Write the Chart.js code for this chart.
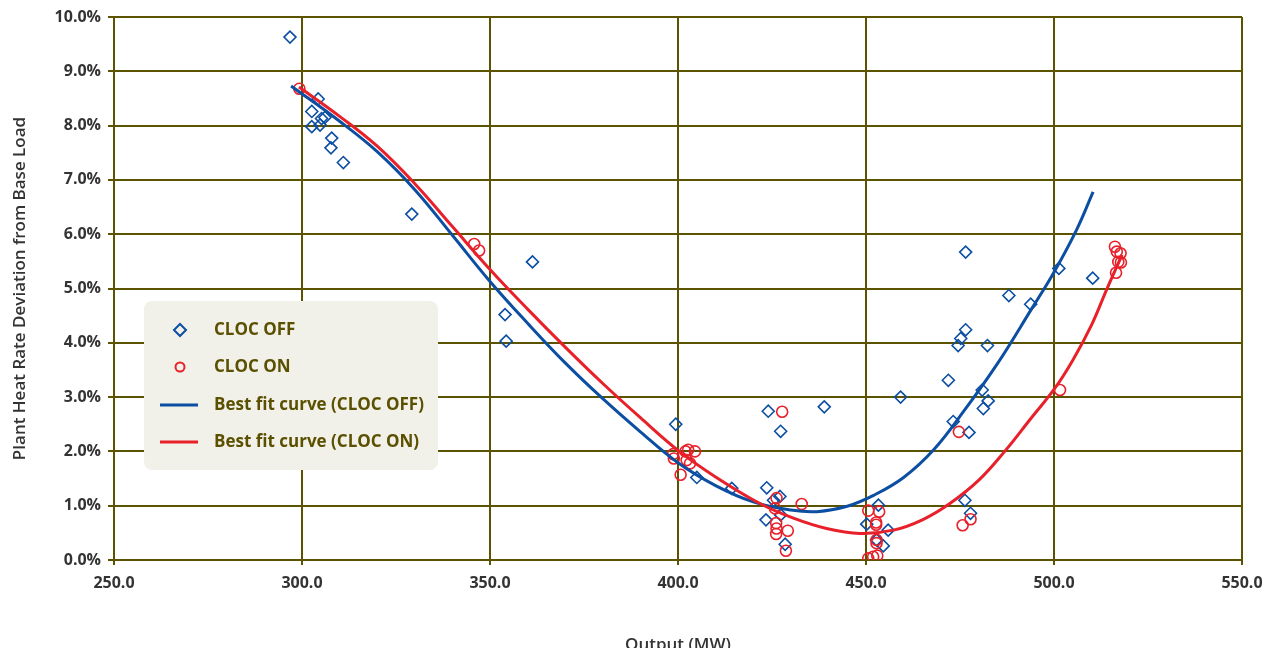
<!DOCTYPE html>
<html>
<head>
<meta charset="utf-8">
<script src="https://cdn.jsdelivr.net/npm/chart.js@4.4.0/dist/chart.umd.min.js"></script>
<style>
  html, body { margin: 0; padding: 0; background: #fff; overflow: hidden; }
  #wrap { position: relative; width: 1273px; height: 648px; }
</style>
</head>
<body>
<div id="wrap"><canvas id="chart" width="1273" height="648"></canvas></div>
<script>
// ── 数据 ──
const offX = [296.8, 304.3, 302.6, 305.2, 306.1, 302.6, 304.8, 307.9, 307.7, 311.0, 329.2,
  361.3, 354.0, 354.3, 399.4, 424.0, 438.9, 459.2, 427.3, 405.0, 414.3, 423.6, 425.4, 427.1,
  427.3, 423.4, 428.5, 450.2, 453.3, 455.9, 454.6, 452.8, 476.5, 501.3, 510.3, 488.0, 493.8,
  476.5, 475.2, 474.5, 482.3, 471.9, 480.9, 482.5, 481.2, 473.2, 477.4, 476.3, 477.8];
const offY = [9.63, 8.49, 8.26, 8.13, 8.15, 7.98, 8.01, 7.77, 7.59, 7.32, 6.37,
  5.49, 4.52, 4.03, 2.50, 2.74, 2.82, 3.00, 2.37, 1.52, 1.32, 1.33, 1.10, 1.17,
  0.83, 0.74, 0.29, 0.66, 1.01, 0.55, 0.26, 0.37, 5.67, 5.37, 5.19, 4.87, 4.71,
  4.24, 4.08, 3.95, 3.95, 3.31, 3.13, 2.93, 2.79, 2.55, 2.35, 1.10, 0.86];

const onX = [299.3, 345.8, 347.1, 398.7, 398.9, 402.7, 404.5, 402.3, 403.2, 400.7, 402.0,
  427.7, 426.2, 425.8, 432.9, 426.1, 426.2, 426.1, 429.2, 428.7, 450.6, 453.5, 452.7, 452.7,
  452.8, 452.8, 450.6, 451.9, 453.0, 474.7, 501.6, 475.7, 477.8, 516.2, 516.7, 517.7, 517.1,
  516.5, 517.8];
const onY = [8.68, 5.82, 5.70, 1.95, 1.87, 2.03, 2.00, 1.84, 1.78, 1.57, 2.00,
  2.73, 1.14, 0.95, 1.03, 0.68, 0.58, 0.48, 0.54, 0.17, 0.91, 0.89, 0.69, 0.65,
  0.37, 0.31, 0.03, 0.06, 0.08, 2.36, 3.13, 0.64, 0.75, 5.77, 5.68, 5.65, 5.49,
  5.29, 5.48];

// 拟合曲线（沿图中曲线读取的点）
const offFitX = [297.1, 310, 320, 330, 340, 350, 360, 370, 380, 390, 400, 410, 420,
  430, 437, 445, 452, 460, 468, 476, 485, 494, 500, 506, 510.4];
const offFitY = [8.73, 8.08, 7.52, 6.82, 5.98, 5.13, 4.36, 3.63, 2.97, 2.36, 1.79, 1.37, 1.07,
  0.92, 0.89, 0.99, 1.19, 1.52, 2.03, 2.74, 3.62, 4.62, 5.30, 6.08, 6.78];

const onFitX = [299.2, 310, 320, 330, 340, 350, 360, 370, 380, 390, 400, 410, 421.8,
  430.7, 439.5, 448.4, 457.3, 465, 472.3, 480, 487, 494, 500, 505, 510, 514, 518.1];
const onFitY = [8.71, 8.17, 7.62, 6.93, 6.14, 5.35, 4.62, 3.92, 3.25, 2.62, 2.02, 1.53, 1.04,
  0.77, 0.58, 0.49, 0.55, 0.74, 1.04, 1.47, 2.01, 2.62, 3.14, 3.68, 4.33, 4.98, 5.62];

const BLUE = '#0b4ea2';
const RED = '#e8202a';
const GRID = '#5b5300';
const LEGEND_TEXT = '#5a5000';

const toPts = (xs, ys) => xs.map((x, i) => ({ x, y: ys[i] }));

// ── 图例（画在图表区内） ──
const legendBox = {
  id: 'legendBox',
  afterDatasetsDraw(chart) {
    const ctx = chart.ctx;
    ctx.save();
    ctx.fillStyle = '#f2f1e9';
    ctx.beginPath();
    ctx.roundRect(144, 301, 294, 169, 8);
    ctx.fill();

    ctx.lineWidth = 2;
    // 菱形
    ctx.strokeStyle = BLUE;
    ctx.beginPath();
    ctx.moveTo(180, 324); ctx.lineTo(186, 330); ctx.lineTo(180, 336); ctx.lineTo(174, 330);
    ctx.closePath(); ctx.stroke();
    // 圆
    ctx.strokeStyle = RED;
    ctx.beginPath(); ctx.arc(180, 367, 4.5, 0, Math.PI * 2); ctx.stroke();
    // 线
    ctx.lineWidth = 3;
    ctx.strokeStyle = BLUE;
    ctx.beginPath(); ctx.moveTo(160, 405); ctx.lineTo(198, 405); ctx.stroke();
    ctx.strokeStyle = RED;
    ctx.beginPath(); ctx.moveTo(160, 442); ctx.lineTo(198, 442); ctx.stroke();

    ctx.fillStyle = LEGEND_TEXT;
    ctx.font = 'bold 17px "Open Sans"';
    ctx.textBaseline = 'middle';
    ctx.textAlign = 'left';
    ctx.fillText('CLOC OFF', 214, 330);
    ctx.fillText('CLOC ON', 214, 367);
    ctx.fillText('Best fit curve (CLOC OFF)', 214, 405);
    ctx.fillText('Best fit curve (CLOC ON)', 214, 442);
    ctx.restore();
  }
};

new Chart(document.getElementById('chart'), {
  type: 'scatter',
  data: {
    datasets: [
      {
        label: 'Best fit curve (CLOC ON)',
        data: toPts(onFitX, onFitY),
        showLine: true,
        borderColor: RED,
        borderWidth: 3,
        pointRadius: 0,
        tension: 0.4,
        order: 0
      },
      {
        label: 'Best fit curve (CLOC OFF)',
        data: toPts(offFitX, offFitY),
        showLine: true,
        borderColor: BLUE,
        borderWidth: 3,
        pointRadius: 0,
        tension: 0.4,
        order: 1
      },
      {
        label: 'CLOC ON',
        data: toPts(onX, onY),
        pointStyle: 'circle',
        pointRadius: 5.5,
        borderColor: RED,
        borderWidth: 1.6,
        backgroundColor: 'rgba(0,0,0,0)',
        order: 2
      },
      {
        label: 'CLOC OFF',
        data: toPts(offX, offY),
        pointStyle: 'rectRot',
        pointRadius: 6,
        borderColor: BLUE,
        borderWidth: 1.6,
        backgroundColor: 'rgba(0,0,0,0)',
        order: 3
      }
    ]
  },
  options: {
    responsive: false,
    animation: false,
    layout: { padding: { left: 0, top: 17, right: 31, bottom: 0 } },
    plugins: {
      legend: { display: false },
      tooltip: { enabled: false }
    },
    scales: {
      x: {
        min: 250, max: 550,
        afterFit: s => { s.height = 88; },
        ticks: {
          stepSize: 50,
          color: '#333',
          font: { family: 'Open Sans', size: 16, weight: 'bold' },
          padding: 9,
          maxRotation: 0,
          callback: v => v.toFixed(1)
        },
        grid: { color: GRID, lineWidth: 2, tickLength: 5 },
        border: { color: GRID, width: 2 },
        title: {
          display: true, text: 'Output (MW)', color: '#333',
          font: { family: 'Open Sans', size: 17, weight: '600' },
          padding: { top: 0, bottom: -7 }
        }
      },
      y: {
        min: 0, max: 10,
        afterFit: s => { s.width = 114; },
        ticks: {
          stepSize: 1,
          color: '#333',
          font: { family: 'Open Sans', size: 16, weight: 'bold' },
          padding: 7,
          callback: v => v.toFixed(1) + '%'
        },
        grid: { color: GRID, lineWidth: 2, tickLength: 6 },
        border: { color: GRID, width: 2 },
        title: {
          display: true, text: 'Plant Heat Rate Deviation from Base Load', color: '#333',
          font: { family: 'Open Sans', size: 17, weight: '600' },
          padding: { top: 10, bottom: 0 }
        }
      }
    }
  },
  plugins: [legendBox]
});
</script>
</body>
</html>
